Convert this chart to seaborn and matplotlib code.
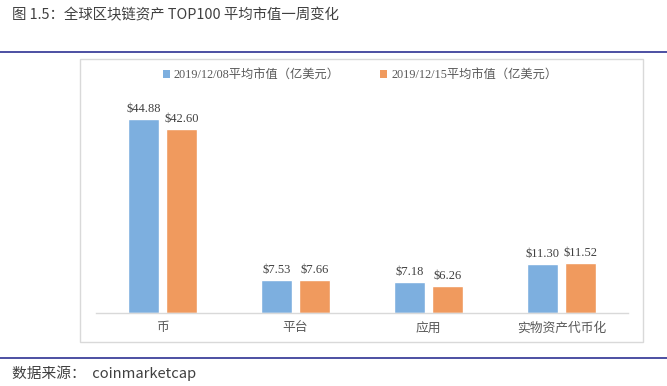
import matplotlib
matplotlib.use("Agg")
import matplotlib.pyplot as plt
import seaborn as sns
import pandas as pd
from matplotlib.patches import Rectangle, Patch
from matplotlib.lines import Line2D

categories = ["币", "平台", "应用", "实物资产代币化"]
series_names = ["2019/12/08平均市值（亿美元）", "2019/12/15平均市值（亿美元）"]
values_1208 = [44.88, 7.53, 7.18, 11.30]
values_1215 = [42.60, 7.66, 6.26, 11.52]
colors = ["#7DAFDF", "#F09A5E"]

title = "图 1.5：全球区块链资产 TOP100 平均市值一周变化"
source = "数据来源：  coinmarketcap"

sns.set_theme(style="white")
plt.rcParams['font.family'] = ['Noto Sans CJK SC', 'DejaVu Sans']

df = pd.DataFrame({
    "cat": categories * 2,
    "series": [series_names[0]] * 4 + [series_names[1]] * 4,
    "val": values_1208 + values_1215,
})

W, H = 667, 386
fig = plt.figure(figsize=(W / 100, H / 100), dpi=100)
ax = fig.add_axes([96 / W, (H - 313) / H, 532 / W, 216 / H])

sns.barplot(data=df, x="cat", y="val", hue="series", palette=colors,
            width=0.57, gap=0.2, ax=ax, legend=False, saturation=1)

ax.set_ylim(0, 50)
ax.set_xlim(-0.5, 3.5)
ax.set_xlabel("")
ax.set_ylabel("")
ax.set_yticks([])
for s in ["left", "right", "top"]:
    ax.spines[s].set_visible(False)
ax.spines["bottom"].set_color("#D9D9D9")
ax.spines["bottom"].set_linewidth(1)
ax.tick_params(axis="x", length=0, pad=6, labelsize=9.2, colors="#595959")

for cont in ax.containers:
    ax.bar_label(cont, fmt="${:.2f}", padding=3, fontsize=9,
                 color="#404040", family=["Liberation Serif", "DejaVu Serif"])

# chart box
fig.patches.append(Rectangle((80 / W, 1 - 342 / H), 563 / W, 283 / H,
                             transform=fig.transFigure, fill=False,
                             edgecolor="#D9D9D9", linewidth=1))
# blue rules
fig.add_artist(Line2D([0, 1], [1 - 52 / H] * 2, transform=fig.transFigure,
                      color="#2E3192", linewidth=1.2))
fig.add_artist(Line2D([0, 1], [1 - 358 / H] * 2, transform=fig.transFigure,
                      color="#2E3192", linewidth=1.2))

fig.text(12 / W, 1 - 15 / H, title, fontsize=10.4, color="#404040", va="center")
fig.text(12 / W, 1 - 373 / H, source, fontsize=10.6, color="#404040", va="center")

handles = [Patch(facecolor=c, edgecolor="none") for c in colors]
fig.legend(handles, series_names, loc="center", ncol=2,
           bbox_to_anchor=(360 / W, 1 - 75 / H), frameon=False,
           handlelength=0.6, handleheight=0.6, handletextpad=0.3,
           columnspacing=3.3,
           prop={"family": ["Liberation Serif", "Noto Sans CJK SC"], "size": 8.8},
           labelcolor="#595959")

fig.savefig("out.png", dpi=100)
